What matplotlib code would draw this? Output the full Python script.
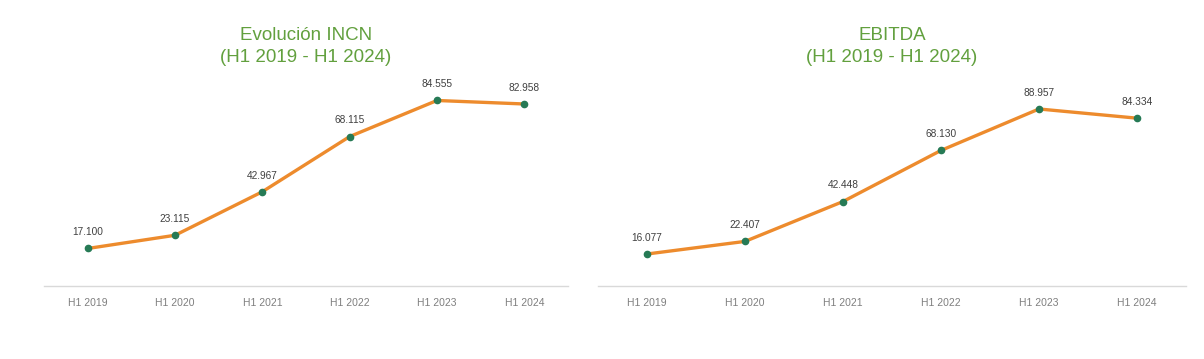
import matplotlib
matplotlib.use("Agg")
import matplotlib.pyplot as plt

# Data
periods = ["H1 2019", "H1 2020", "H1 2021", "H1 2022", "H1 2023", "H1 2024"]
incn = [17.100, 23.115, 42.967, 68.115, 84.555, 82.958]
ebitda = [16.077, 22.407, 42.448, 68.130, 88.957, 84.334]
titles = ["Evolución INCN\n(H1 2019 - H1 2024)", "EBITDA\n(H1 2019 - H1 2024)"]

line_color = "#ED8B2D"
marker_color = "#267A55"
title_color = "#62A03E"

W, H = 1204, 359
fig = plt.figure(figsize=(W / 100, H / 100), dpi=100)

# axes boxes in pixels: left, right, bottom, top
boxes = [(44, 568, 286, 86), (598, 1186, 286, 86)]
ytops = [200 / 2.194, 200 / 1.99]

for (x0, x1, yb, yt), values, title, ytop in zip(boxes, [incn, ebitda], titles, ytops):
    ax = fig.add_axes([x0 / W, 1 - yb / H, (x1 - x0) / W, (yb - yt) / H])
    x = list(range(len(periods)))
    ax.plot(x, values, color=line_color, lw=2.4, solid_capstyle="round",
            marker="o", ms=4.5, mfc=marker_color, mec=marker_color, zorder=3)
    for xi, v in zip(x, values):
        ax.annotate(f"{v:.3f}", (xi, v), xytext=(0, 8), textcoords="offset points",
                    ha="center", va="bottom", fontsize=7.3, color="#404040",
                    family="Liberation Sans")
    ax.set_xlim(-0.5, len(periods) - 0.5)
    ax.set_ylim(0, ytop)
    ax.set_xticks(x)
    ax.set_xticklabels(periods, fontsize=7.5, color="#7F7F7F", family="Liberation Sans")
    ax.tick_params(axis="x", length=0, pad=9)
    ax.set_yticks([])
    for s in ["top", "left", "right"]:
        ax.spines[s].set_visible(False)
    ax.spines["bottom"].set_color("#D9D9D9")
    ax.spines["bottom"].set_linewidth(1.0)
    fig.text((x0 + x1) / 2 / W, 1 - 46.5 / H, title, ha="center", va="center",
             fontsize=13.5, color=title_color, linespacing=1.32,
             family="Liberation Sans")

fig.savefig("out.png", dpi=100)
